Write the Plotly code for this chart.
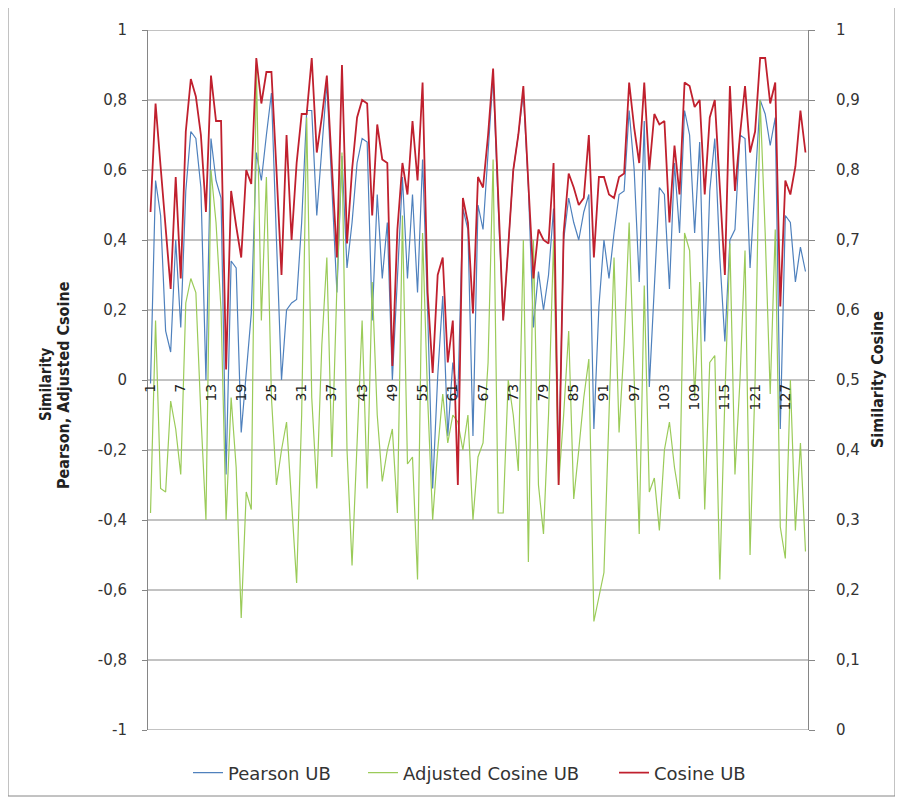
import plotly.graph_objects as go

categories = list(range(1, 132))

pearson_ub = [
    -0.01, 0.57, 0.47, 0.14, 0.08, 0.40, 0.15, 0.54, 0.71, 0.69,
    0.55, 0.00, 0.69, 0.57, 0.52, -0.27, 0.34, 0.32, -0.15, 0.01,
    0.19, 0.65, 0.57, 0.70, 0.82, 0.40, 0.00, 0.20, 0.22, 0.23,
    0.45, 0.77, 0.77, 0.47, 0.65, 0.85, 0.55, 0.25, 0.64, 0.32,
    0.45, 0.62, 0.69, 0.68, 0.17, 0.53, 0.29, 0.45, 0.00, 0.27,
    0.58, 0.29, 0.53, 0.25, 0.63, 0.20, -0.31, 0.01, 0.24, -0.16,
    0.05, -0.05, 0.49, 0.43, -0.16, 0.50, 0.43, 0.65, 0.87, 0.50,
    0.17, 0.38, 0.60, 0.70, 0.82, 0.55, 0.15, 0.31, 0.20, 0.30,
    0.49, -0.25, 0.40, 0.52, 0.45, 0.40, 0.48, 0.53, -0.14, 0.21,
    0.40, 0.29, 0.42, 0.53, 0.54, 0.77, 0.60, 0.28, 0.74, -0.02,
    0.27, 0.55, 0.53, 0.26, 0.62, 0.42, 0.77, 0.70, 0.42, 0.68,
    0.11, 0.54, 0.69, 0.35, 0.11, 0.40, 0.43, 0.70, 0.69, 0.32,
    0.56, 0.80, 0.76, 0.67, 0.75, -0.14, 0.47, 0.45, 0.28, 0.38,
    0.31,
]

adjusted_cosine_ub = [
    -0.38, 0.17, -0.31, -0.32, -0.06, -0.14, -0.27, 0.22, 0.29, 0.25,
    -0.10, -0.40, 0.60, 0.45, 0.20, -0.40, -0.05, -0.25, -0.68, -0.32,
    -0.37, 0.90, 0.17, 0.58, -0.05, -0.30, -0.20, -0.12, -0.35, -0.58,
    -0.10, 0.75, -0.05, -0.31, 0.10, 0.35, -0.22, 0.27, 0.65, -0.20,
    -0.53, -0.20, 0.17, -0.31, 0.28, -0.10, -0.29, -0.20, -0.14, -0.38,
    0.47, -0.24, -0.22, -0.57, 0.42, -0.05, -0.40, -0.20, -0.04, -0.18,
    -0.10, -0.12, -0.20, -0.10, -0.40, -0.22, -0.18, 0.05, 0.63, -0.38,
    -0.38, 0.00, -0.10, -0.26, 0.40, -0.52, 0.40, -0.30, -0.44, -0.10,
    0.40, -0.30, -0.10, 0.14, -0.34, -0.20, -0.05, 0.06, -0.69, -0.62,
    -0.55, -0.10, 0.35, -0.15, 0.10, 0.45, 0.00, -0.44, 0.27, -0.32,
    -0.28, -0.43, -0.20, -0.12, -0.25, -0.34, 0.42, 0.37, -0.05, 0.28,
    -0.37, 0.05, 0.07, -0.57, -0.05, 0.39, -0.27, 0.00, 0.37, -0.50,
    0.00, 0.80, 0.42, -0.04, 0.43, -0.42, -0.51, 0.00, -0.43, -0.18,
    -0.49,
]

cosine_ub = [
    0.74, 0.895, 0.805, 0.715, 0.63, 0.79, 0.645, 0.855, 0.93, 0.905,
    0.85, 0.74, 0.935, 0.87, 0.87, 0.515, 0.77, 0.72, 0.675, 0.80,
    0.78, 0.96, 0.895, 0.94, 0.94, 0.80, 0.65, 0.85, 0.70, 0.81,
    0.88, 0.88, 0.96, 0.825, 0.875, 0.935, 0.80, 0.675, 0.95, 0.695,
    0.80, 0.875, 0.90, 0.895, 0.735, 0.865, 0.815, 0.81, 0.52, 0.715,
    0.81, 0.765, 0.87, 0.785, 0.925, 0.625, 0.51, 0.65, 0.675, 0.525,
    0.585, 0.35, 0.76, 0.725, 0.595, 0.79, 0.775, 0.85, 0.945, 0.765,
    0.585, 0.69, 0.80, 0.85, 0.92, 0.78, 0.645, 0.715, 0.70, 0.695,
    0.81, 0.35, 0.71, 0.795, 0.775, 0.75, 0.76, 0.85, 0.675, 0.79,
    0.79, 0.765, 0.76, 0.79, 0.795, 0.925, 0.86, 0.81, 0.925, 0.80,
    0.88, 0.865, 0.87, 0.725, 0.835, 0.765, 0.925, 0.92, 0.89, 0.90,
    0.765, 0.875, 0.90, 0.775, 0.65, 0.92, 0.77, 0.85, 0.92, 0.825,
    0.855, 0.96, 0.96, 0.895, 0.925, 0.605, 0.785, 0.765, 0.805, 0.885,
    0.825,
]

x_tick_vals = list(range(1, 132, 6))
x_tick_text = [str(v) for v in x_tick_vals]
left_tick_vals = [1, 0.8, 0.6, 0.4, 0.2, 0, -0.2, -0.4, -0.6, -0.8, -1]
left_tick_text = ["1", "0,8", "0,6", "0,4", "0,2", "0", "-0,2", "-0,4", "-0,6", "-0,8", "-1"]
right_tick_vals = [0, 0.1, 0.2, 0.3, 0.4, 0.5, 0.6, 0.7, 0.8, 0.9, 1]
right_tick_text = ["0", "0,1", "0,2", "0,3", "0,4", "0,5", "0,6", "0,7", "0,8", "0,9", "1"]

FONT = "DejaVu Sans, Verdana, sans-serif"
TITLE_FONT = "DejaVu Sans Condensed, Liberation Sans Narrow, DejaVu Sans, sans-serif"
GRID = "#868686"

# The page body has an 8px margin, so the figure is drawn 8px smaller and offset.
W, H = 895, 795
L, T, R, B = 140, 22, 95, 73
PW, PH = W - L - R, H - T - B


def px_x(x):  # reference window x -> paper fraction
    return (x - 8 - L) / PW


def px_y(y):  # reference window y -> paper fraction
    return (H - B - (y - 8)) / PH


fig = go.Figure()
fig.add_trace(go.Scatter(x=categories, y=pearson_ub, mode="lines", name="Pearson UB",
                         legend="legend", line=dict(color="#4F81BD", width=1.2)))
fig.add_trace(go.Scatter(x=categories, y=adjusted_cosine_ub, mode="lines", name="Adjusted Cosine UB",
                         legend="legend2", line=dict(color="#9BCB59", width=1.2)))
fig.add_trace(go.Scatter(x=categories, y=cosine_ub, mode="lines", name="Cosine UB", yaxis="y2",
                         legend="legend3", line=dict(color="#C0202E", width=1.8)))

grid_shapes = [
    dict(type="line", xref="paper", yref="y", x0=0, x1=1, y0=v, y1=v,
         line=dict(color=GRID, width=1), layer="below")
    for v in left_tick_vals
]


def legend_at(text_left):
    return dict(orientation="h", x=px_x(text_left - 42), xanchor="left", y=px_y(773), yanchor="middle",
                font=dict(family=FONT, size=18, color="#333333"), itemwidth=30,
                bgcolor="rgba(0,0,0,0)")


fig.update_layout(
    width=W, height=H,
    margin=dict(l=L, r=R, t=T, b=B, autoexpand=False),
    paper_bgcolor="white", plot_bgcolor="white",
    font=dict(family=FONT, size=15, color="#222222"),
    showlegend=True,
    legend=legend_at(230),
    legend2=legend_at(405),
    legend3=legend_at(656),
    xaxis=dict(range=[0.5, 131.5], tickmode="array", tickvals=x_tick_vals, ticktext=x_tick_text,
               tickangle=-90, anchor="free", position=0.5, showgrid=False, zeroline=False,
               showline=False, ticks="", tickfont=dict(size=14, color="#222222")),
    yaxis=dict(range=[-1, 1], tickmode="array", tickvals=left_tick_vals, ticktext=left_tick_text,
               showgrid=False, zeroline=False,
               showline=True, linecolor=GRID, linewidth=1,
               ticks="outside", ticklen=5, tickcolor=GRID, ticklabelstandoff=12,
               tickfont=dict(size=15, color="#333333")),
    yaxis2=dict(range=[0, 1], overlaying="y", side="right", tickmode="array",
                tickvals=right_tick_vals, ticktext=right_tick_text,
                showgrid=False, zeroline=False, showline=True, linecolor=GRID, linewidth=1,
                ticks="outside", ticklen=6, tickcolor=GRID, ticklabelstandoff=18,
                tickfont=dict(size=15, color="#333333")),
    annotations=[
        dict(text="<b>Similarity</b>", xref="paper", yref="paper",
             x=px_x(46), y=px_y(385), xanchor="center", yanchor="middle", textangle=-90,
             showarrow=False, font=dict(family=TITLE_FONT, size=15, color="#222222")),
        dict(text="<b>Pearson, Adjusted Csoine</b>", xref="paper", yref="paper",
             x=px_x(63), y=px_y(385), xanchor="center", yanchor="middle", textangle=-90,
             showarrow=False, font=dict(family=TITLE_FONT, size=16, color="#222222")),
        dict(text="<b>Similarity Cosine</b>", xref="paper", yref="paper",
             x=px_x(877), y=px_y(380), xanchor="center", yanchor="middle", textangle=-90,
             showarrow=False, font=dict(family=TITLE_FONT, size=16, color="#222222")),
    ],
    shapes=grid_shapes + [
        dict(type="rect", xref="paper", yref="paper", x0=px_x(8), x1=px_x(895),
             y0=px_y(796), y1=px_y(7), line=dict(color=GRID, width=1),
             fillcolor="rgba(0,0,0,0)", layer="below"),
    ],
)

fig.write_html("out.html")
